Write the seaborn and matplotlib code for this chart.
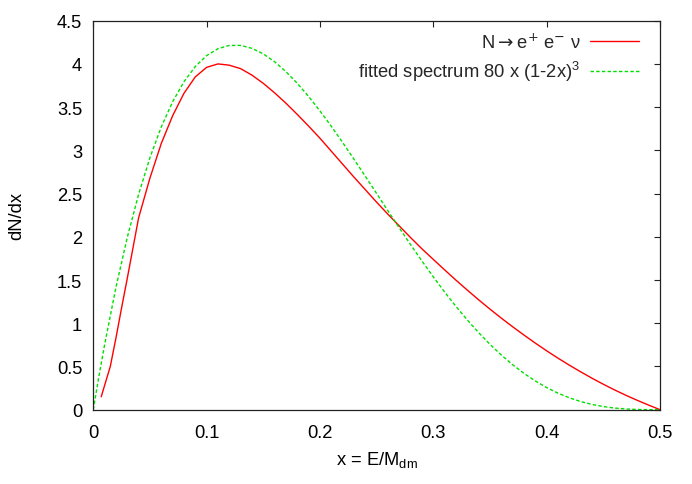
import numpy as np
import pandas as pd
import matplotlib
matplotlib.use("Agg")
import matplotlib.pyplot as plt
import seaborn as sns

# Data
x_decay = [0.007, 0.015, 0.02, 0.025, 0.03, 0.04, 0.05, 0.06, 0.07, 0.08, 0.09,
           0.10, 0.11, 0.12, 0.13, 0.14, 0.15, 0.16, 0.17, 0.18, 0.19, 0.20,
           0.21, 0.22, 0.23, 0.24, 0.25, 0.26, 0.27, 0.28, 0.29, 0.30, 0.31,
           0.32, 0.33, 0.34, 0.35, 0.36, 0.37, 0.38, 0.39, 0.40, 0.41, 0.42,
           0.43, 0.44, 0.45, 0.46, 0.47, 0.48, 0.49, 0.50]
y_decay = [0.15, 0.50, 0.83, 1.18, 1.52, 2.22, 2.68, 3.08, 3.40, 3.66, 3.85,
           3.96, 4.00, 3.985, 3.945, 3.87, 3.775, 3.665, 3.545, 3.415, 3.28, 3.14,
           2.99, 2.84, 2.69, 2.545, 2.40, 2.26, 2.125, 1.99, 1.86, 1.738, 1.617,
           1.498, 1.383, 1.271, 1.163, 1.059, 0.959, 0.863, 0.770, 0.681, 0.596, 0.515,
           0.438, 0.364, 0.294, 0.228, 0.166, 0.108, 0.053, 0.0]

x_fit = [0.0, 0.005, 0.01, 0.02, 0.03, 0.04, 0.05, 0.06, 0.07, 0.08, 0.09,
         0.10, 0.11, 0.12, 0.13, 0.14, 0.15, 0.16, 0.17, 0.18, 0.19, 0.20,
         0.21, 0.22, 0.23, 0.24, 0.25, 0.26, 0.27, 0.28, 0.29, 0.30, 0.31,
         0.32, 0.33, 0.34, 0.35, 0.36, 0.37, 0.38, 0.39, 0.40, 0.41, 0.42,
         0.43, 0.44, 0.45, 0.46, 0.47, 0.48, 0.49, 0.50]
y_fit = [0.0, 0.39, 0.753, 1.416, 1.993, 2.492, 2.916, 3.271, 3.562, 3.793, 3.970,
         4.096, 4.176, 4.214, 4.214, 4.180, 4.116, 4.025, 3.910, 3.775, 3.623, 3.456,
         3.278, 3.091, 2.897, 2.700, 2.500, 2.300, 2.102, 1.908, 1.719, 1.536, 1.361,
         1.194, 1.038, 0.891, 0.756, 0.632, 0.520, 0.420, 0.332, 0.256, 0.191, 0.138,
         0.094, 0.061, 0.036, 0.019, 0.008, 0.0025, 0.0003, 0.0]

label_decay = "N$\\rightarrow$e$^{+}$ e$^{-}$ \u03bd"
label_fit = r"fitted spectrum 80 x (1-2x)$^{3}$"

x_ticks = [0, 0.1, 0.2, 0.3, 0.4, 0.5]
x_ticklabels = ["0", "0.1", "0.2", "0.3", "0.4", "0.5"]
y_ticks = [0, 0.5, 1, 1.5, 2, 2.5, 3, 3.5, 4, 4.5]
y_ticklabels = ["0", "0.5", "1", "1.5", "2", "2.5", "3", "3.5", "4", "4.5"]

sns.set_theme(style="white")
plt.rcParams['font.family'] = ['Liberation Sans', 'DejaVu Sans']
plt.rcParams['mathtext.fontset'] = 'custom'
plt.rcParams['mathtext.rm'] = 'Liberation Sans'
plt.rcParams['mathtext.it'] = 'Liberation Sans'
plt.rcParams['mathtext.sf'] = 'Liberation Sans'

FS = 13.2

df_decay = pd.DataFrame({"x": x_decay, "y": y_decay})
df_fit = pd.DataFrame({"x": x_fit, "y": y_fit})

fig = plt.figure(figsize=(6.92, 4.85), dpi=100)
ax = fig.add_axes([0.1348, 0.1532, 0.8190, 0.8021])

sns.lineplot(data=df_decay, x="x", y="y", ax=ax, color="#ff0000", lw=1.0,
             label=label_decay, sort=False)
sns.lineplot(data=df_fit, x="x", y="y", ax=ax, color="#00e000", lw=1.0,
             label=label_fit, sort=False)
ax.lines[1].set_dashes((2.5, 1.6))

ax.set_xlim(0, 0.5)
ax.set_ylim(0, 4.5)
ax.set_xticks(x_ticks)
ax.set_xticklabels(x_ticklabels)
ax.set_yticks(y_ticks)
ax.set_yticklabels(y_ticklabels)
ax.tick_params(direction="in", length=4.5, width=0.8, color="#222222",
               top=True, right=True, labelsize=FS, labelcolor="black")
ax.tick_params(axis="x", pad=10)
ax.tick_params(axis="y", pad=8)
for s in ax.spines.values():
    s.set_color("#222222")
    s.set_linewidth(0.9)

ax.set_xlabel(r"x = E/M$_{\rm dm}$", fontsize=FS, color="black")
ax.set_ylabel("dN/dx", fontsize=FS, color="black")
ax.xaxis.set_label_coords(0.5, -0.1)
ax.yaxis.set_label_coords(-0.1205, 0.5)

leg = ax.legend(loc="upper right", frameon=False, markerfirst=False,
                fontsize=FS, handlelength=2.7, handletextpad=0.5,
                borderaxespad=0.0, borderpad=0.0, labelspacing=0.42,
                bbox_to_anchor=(0.963, 0.97))
leg.get_texts()[0].set_math_fontfamily("dejavusans")

fig.savefig("out.png", dpi=100)
